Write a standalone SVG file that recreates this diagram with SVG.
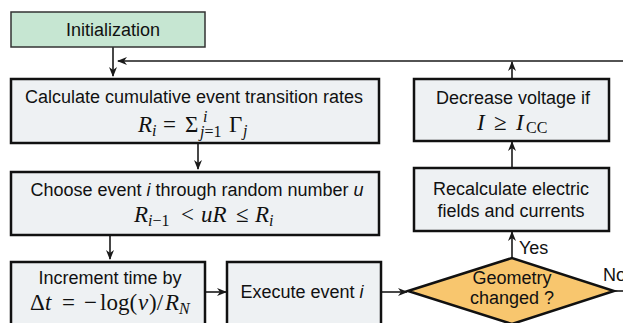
<svg xmlns="http://www.w3.org/2000/svg" width="623" height="323" viewBox="0 0 623 323">
<defs>
<marker id="ah" markerWidth="10" markerHeight="8" refX="9" refY="4" orient="auto" markerUnits="userSpaceOnUse">
<path d="M0,0 L10,4 L0,8 L3,4 Z" fill="#1a1a1a"/>
</marker>
</defs>
<style>
.box{fill:#eef1f3;stroke:#111;stroke-width:2.5}
.init{fill:#c6e6d2;stroke:#333;stroke-width:1.5}
.dia{fill:#f8c66e;stroke:#111;stroke-width:2.5}
.t{font-family:"Liberation Sans",Arial,sans-serif;font-size:18px;fill:#111;text-anchor:middle}
.m{font-family:"Liberation Serif","Times New Roman",serif;font-size:23px;fill:#111}
.s{font-size:16px}
.i{font-style:italic}
.c{stroke:#1a1a1a;stroke-width:1.6;fill:none}
</style>
<rect width="623" height="323" fill="#fff"/>
<g id="connectors">
<path class="c" d="M113,47 V76" marker-end="url(#ah)"/>
<path class="c" d="M623,61 H118" marker-end="url(#ah)"/>
<path class="c" d="M198,143 V169" marker-end="url(#ah)"/>
<path class="c" d="M110,235 V259" marker-end="url(#ah)"/>
<path class="c" d="M205,292 H226" marker-end="url(#ah)"/>
<path class="c" d="M381,292 H407" marker-end="url(#ah)"/>
<path class="c" d="M512,258 V232" marker-end="url(#ah)"/>
<path class="c" d="M512,168 V142" marker-end="url(#ah)"/>
<path class="c" d="M512,79 V62" marker-end="url(#ah)"/>
<path class="c" d="M614,291 H623"/>
<text class="t" x="519" y="254" style="text-anchor:start">Yes</text>
<text class="t" x="603" y="281" style="text-anchor:start">No</text>
</g>
<g id="init">
<rect class="init" x="11" y="12" width="194" height="35"/>
<text class="t" x="113" y="36">Initialization</text>
</g>
<g id="calc">
<rect class="box" x="11" y="79" width="368" height="64"/>
<text class="t" x="194" y="103">Calculate cumulative event transition rates</text>
<text class="m" y="132"><tspan class="i" x="138">R</tspan><tspan class="i s" x="152" dy="4">i</tspan><tspan x="163" dy="-4">=</tspan><tspan x="185">Σ</tspan><tspan class="i s" x="203" dy="-10">i</tspan><tspan class="s" x="200" dy="15"><tspan class="i">j</tspan>=1</tspan><tspan x="229" dy="-5">Γ</tspan><tspan class="i s" x="243" dy="4">j</tspan></text>
</g>
<g id="choose">
<rect class="box" x="11" y="172" width="368" height="63"/>
<text class="t" x="197" y="196">Choose event <tspan class="i">i</tspan> through random number <tspan class="i">u</tspan></text>
<text class="m" y="222"><tspan class="i" x="134">R</tspan><tspan class="s" x="148" dy="4"><tspan class="i">i</tspan>−1</tspan><tspan x="181" dy="-4">&lt;</tspan><tspan class="i" x="201">uR</tspan><tspan x="236">≤</tspan><tspan class="i" x="255">R</tspan><tspan class="i s" x="269" dy="4">i</tspan></text>
</g>
<g id="increment">
<rect class="box" x="11" y="262" width="194" height="70"/>
<text class="t" x="110" y="284">Increment time by</text>
<text class="m" y="310"><tspan x="30">Δ</tspan><tspan class="i" x="45">t</tspan><tspan x="62">=</tspan><tspan x="84">−</tspan><tspan x="100">log(</tspan><tspan class="i" x="138">v</tspan><tspan x="149">)/</tspan><tspan class="i" x="165">R</tspan><tspan class="i s" x="179" dy="4">N</tspan></text>
</g>
<g id="execute">
<rect class="box" x="227" y="262" width="154" height="70"/>
<text class="t" x="302" y="298">Execute event <tspan class="i">i</tspan></text>
</g>
<g id="geometry">
<path class="dia" d="M408,291 L512,258 L614,291 L512,324 Z"/>
<text class="t" x="512" y="284">Geometry</text>
<text class="t" x="512" y="304">changed ?</text>
</g>
<g id="recalc">
<rect class="box" x="414" y="168" width="195" height="63"/>
<text class="t" x="511" y="195">Recalculate electric</text>
<text class="t" x="511" y="217">fields and currents</text>
</g>
<g id="decrease">
<rect class="box" x="414" y="79" width="195" height="62"/>
<text class="t" x="513" y="104">Decrease voltage if</text>
<text class="m" y="130"><tspan class="i" x="477">I</tspan><tspan x="494">≥</tspan><tspan class="i" x="516">I</tspan><tspan x="526" font-size="16" dy="3">CC</tspan></text>
</g>
</svg>
